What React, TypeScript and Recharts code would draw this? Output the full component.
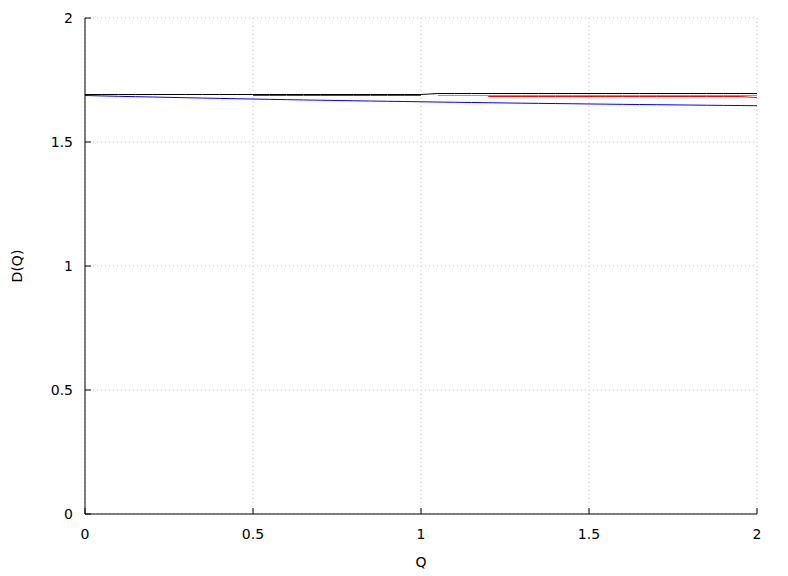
import React from 'react';
import { LineChart, Line, XAxis, YAxis, CartesianGrid } from 'recharts';

const qValues = [0, 0.05, 0.1, 0.15, 0.2, 0.25, 0.3, 0.35, 0.4, 0.45, 0.5, 0.55, 0.6, 0.65, 0.7, 0.75, 0.8, 0.85, 0.9, 0.95, 1.0, 1.05, 1.1, 1.15, 1.2, 1.25, 1.3, 1.35, 1.4, 1.45, 1.5, 1.55, 1.6, 1.65, 1.7, 1.75, 1.8, 1.85, 1.9, 1.95, 2.0];

const blackSeries = [1.6915, 1.6915, 1.6915, 1.6915, 1.6915, 1.6915, 1.6915, 1.6915, 1.6915, 1.6915, 1.6915, 1.6915, 1.6915, 1.6915, 1.6915, 1.6915, 1.6915, 1.6915, 1.6915, 1.6915, 1.6915, 1.6955, 1.6955, 1.6955, 1.6955, 1.6955, 1.6955, 1.6955, 1.6955, 1.6955, 1.6955, 1.6955, 1.6955, 1.6955, 1.6955, 1.6955, 1.6955, 1.6955, 1.6955, 1.6955, 1.6955];

const redSeries = [null, null, null, null, null, null, null, null, null, null, 1.6875, 1.6875, 1.6875, 1.6875, 1.6875, 1.6875, 1.6875, 1.6875, 1.6875, 1.6875, 1.6875, null, null, null, 1.6835, 1.6835, 1.6835, 1.6835, 1.6835, 1.6835, 1.6835, 1.6835, 1.6835, 1.6835, 1.6835, 1.6835, 1.6835, 1.6835, 1.6835, 1.6835, 1.679];

const greenSeries = [null, null, null, null, null, null, null, null, null, null, null, null, null, null, null, null, null, null, null, null, null, 1.6875, 1.6875, 1.6875, 1.6875, 1.6875, 1.6875, 1.6875, 1.6875, 1.6875, 1.6875, 1.6875, 1.6875, 1.6875, 1.6875, 1.6875, 1.6875, 1.6875, 1.6875, 1.6875, 1.6875];

const blueSeries = [1.6875, 1.6858, 1.6842, 1.6828, 1.6814, 1.68, 1.6786, 1.6772, 1.6758, 1.6745, 1.6732, 1.672, 1.6708, 1.6696, 1.6685, 1.6674, 1.6663, 1.6652, 1.6642, 1.6632, 1.6622, 1.6612, 1.6602, 1.6593, 1.6584, 1.6575, 1.6566, 1.6558, 1.655, 1.6542, 1.6534, 1.6526, 1.6518, 1.6511, 1.6504, 1.6497, 1.649, 1.6483, 1.6476, 1.647, 1.6464];

const xTicks = [0, 0.5, 1, 1.5, 2];
const yTicks = [0, 0.5, 1, 1.5, 2];

const data = qValues.map((q, i) => ({
  q,
  black: blackSeries[i],
  red: redSeries[i],
  green: greenSeries[i],
  blue: blueSeries[i],
}));

const FONT = 'DejaVu Sans';
const FS = 14;

const BottomTick = (props: any) => {
  const { x, y, payload } = props;
  return (
    <g>
      <line x1={x} y1={y} x2={x} y2={y - 6} stroke="#000" strokeWidth={1} />
      <text x={x} y={y + 25} textAnchor="middle" fontFamily={FONT} fontSize={FS} fill="#000">
        {String(payload.value)}
      </text>
    </g>
  );
};

const TopTick = (props: any) => {
  const { x, y } = props;
  return <line x1={x} y1={y} x2={x} y2={y + 6} stroke="#000" strokeWidth={1} />;
};

const LeftTick = (props: any) => {
  const { x, y, payload } = props;
  return (
    <g>
      <line x1={x} y1={y} x2={x + 6} y2={y} stroke="#000" strokeWidth={1} />
      <text x={x - 12} y={y + 5} textAnchor="end" fontFamily={FONT} fontSize={FS} fill="#000">
        {String(payload.value)}
      </text>
    </g>
  );
};

const RightTick = (props: any) => {
  const { x, y } = props;
  return <line x1={x} y1={y} x2={x - 6} y2={y} stroke="#000" strokeWidth={1} />;
};

export default function App() {
  return (
    <div style={{ position: 'absolute', left: 0, top: 0, background: '#fff' }}>
      <LineChart width={788} height={576} data={data} margin={{ top: 18, right: 31, left: 0, bottom: 0 }}>
        <CartesianGrid xAxisId="b" yAxisId="l" stroke="#c8c8c8" strokeDasharray="1 3" />
        <XAxis
          xAxisId="b"
          dataKey="q"
          type="number"
          domain={[0, 2]}
          ticks={xTicks}
          interval={0}
          height={62}
          tickSize={0}
          tickMargin={0}
          tickLine={false}
          axisLine={{ stroke: '#000', strokeWidth: 1 }}
          tick={BottomTick}
          label={{
            content: () => (
              <text x={421} y={567} textAnchor="middle" fontFamily={FONT} fontSize={FS} fill="#000">
                Q
              </text>
            ),
          }}
        />
        <XAxis
          xAxisId="t"
          orientation="top"
          dataKey="q"
          type="number"
          domain={[0, 2]}
          ticks={xTicks}
          interval={0}
          height={0}
          tickSize={0}
          tickMargin={0}
          tickLine={false}
          axisLine={{ stroke: '#000', strokeWidth: 1 }}
          tick={TopTick}
        />
        <YAxis
          yAxisId="l"
          type="number"
          domain={[0, 2]}
          ticks={yTicks}
          interval={0}
          width={85}
          tickSize={0}
          tickMargin={0}
          tickLine={false}
          axisLine={{ stroke: '#000', strokeWidth: 1 }}
          tick={LeftTick}
          label={{
            content: () => (
              <text
                x={22}
                y={266}
                transform="rotate(-90 22 266)"
                textAnchor="middle"
                fontFamily={FONT}
                fontSize={FS}
                fill="#000"
              >
                D(Q)
              </text>
            ),
          }}
        />
        <YAxis
          yAxisId="r"
          orientation="right"
          type="number"
          domain={[0, 2]}
          ticks={yTicks}
          interval={0}
          width={0}
          tickSize={0}
          tickMargin={0}
          tickLine={false}
          axisLine={{ stroke: '#000', strokeWidth: 1 }}
          tick={RightTick}
        />
        <Line xAxisId="b" yAxisId="l" dataKey="blue" stroke="#0000ff" strokeWidth={1} dot={false} activeDot={false} isAnimationActive={false} connectNulls={false} />
        <Line xAxisId="b" yAxisId="l" dataKey="black" stroke="#000000" strokeWidth={1} dot={false} activeDot={false} isAnimationActive={false} connectNulls={false} />
        <Line xAxisId="b" yAxisId="l" dataKey="green" stroke="#00ff00" strokeWidth={1} dot={false} activeDot={false} isAnimationActive={false} connectNulls={false} />
        <Line xAxisId="b" yAxisId="l" dataKey="red" stroke="#ff0000" strokeWidth={1} dot={false} activeDot={false} isAnimationActive={false} connectNulls={false} />
      </LineChart>
    </div>
  );
}
